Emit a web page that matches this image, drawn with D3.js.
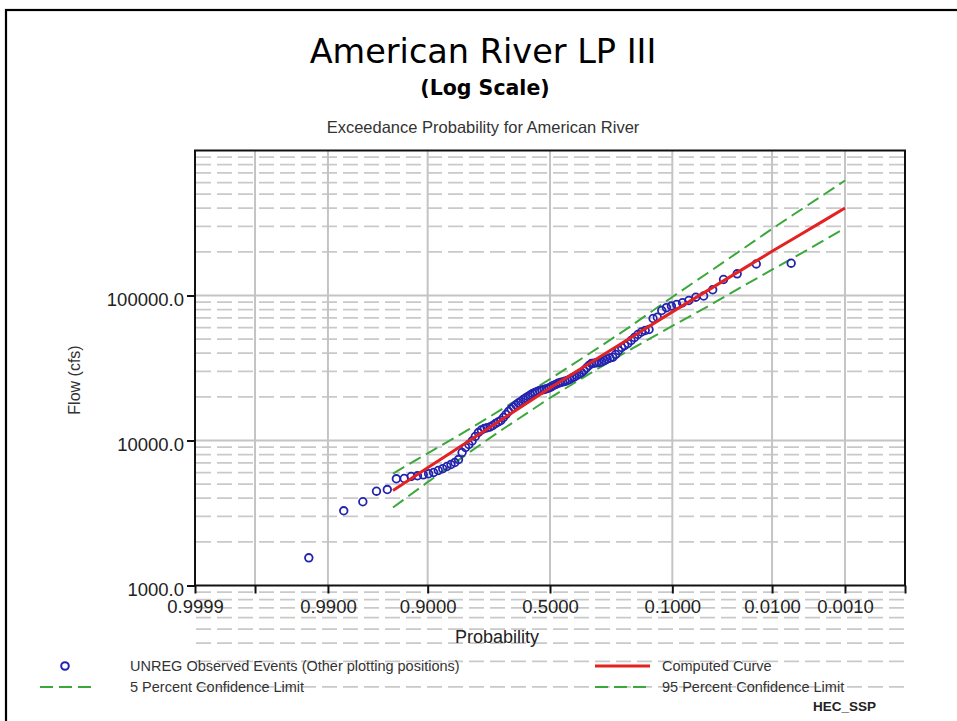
<!DOCTYPE html>
<html>
<head>
<meta charset="utf-8">
<script src="https://cdn.jsdelivr.net/npm/d3@7"></script>
<style>
  body { margin: 0; background: #fff; }
  svg { display: block; }
</style>
</head>
<body>
<svg id="chart" width="957" height="721"></svg>
<script>
// ---- data ----------------------------------------------------------------
// Exceedance-probability axis ticks (normal probability paper)
const probTicks  = [0.9999, 0.999, 0.99, 0.9, 0.5, 0.1, 0.01, 0.001, 0.0001];
const probLabels = ["0.9999", "", "0.9900", "0.9000", "0.5000", "0.1000", "0.0100", "0.0010", ""];
const probGrid   = [0.999, 0.99, 0.9, 0.5, 0.1, 0.01, 0.001];

// Flow axis ticks
const flowTicks      = [1000, 10000, 100000];
const flowTickLabels = ["1000.0", "10000.0", "100000.0"];

// LP III computed frequency curve and confidence limits (cfs)
const curveProb    = [0.95, 0.9, 0.8, 0.7, 0.5, 0.3, 0.2, 0.1, 0.05, 0.02, 0.01, 0.005, 0.002, 0.001];
const computedFlow = [4520, 6480, 10000, 13710, 23010, 37760, 50930, 77090, 107600, 157000, 201800, 252500, 331100, 401000];
const conf05Flow   = [5920, 8150, 12020, 16110, 26550, 44360, 61240, 97720, 141900, 216800, 288400, 370700, 501200, 620900];
const conf95Flow   = [3450, 5160, 8320, 11610, 19680, 31990, 42360, 61660, 83560, 119100, 150700, 186200, 242100, 291700];

// Observed annual peak flows, ranked largest to smallest (cfs)
const observedFlow = [
  167000, 165000, 141100, 128900, 109500, 99200, 97300, 92400, 89100, 86700,
  84600, 82400, 78800, 70850, 69400, 58300, 57350, 56000, 53830, 51330,
  48940, 46670, 45200, 43800, 41760, 39190, 37540, 37070, 36480, 35620,
  34900, 34510, 34350, 34130, 33960, 32900, 31620, 30390, 29440, 28740,
  28070, 27410, 26980, 26340, 25930, 25600, 25310, 25120, 24800, 24330,
  23950, 23460, 23020, 22760, 22470, 22300, 22120, 21770, 21430, 21090,
  20590, 20110, 19640, 19180, 18580, 18140, 17570, 17020, 16490, 15850,
  15110, 14410, 13740, 13420, 13100, 12690, 12390, 12240, 12100, 11810,
  11350, 10660, 9920, 9380, 8950, 8270, 7390, 7050, 6830, 6620,
  6390, 6210, 6020, 5900, 5800, 5710, 5645, 5470, 5445, 4590,
  4470, 3780, 3275, 1552
];

// ---- helpers -------------------------------------------------------------
// Inverse standard normal CDF (Acklam's rational approximation)
function normInv(p) {
  const a = [-3.969683028665376e+01, 2.209460984245205e+02, -2.759285104469687e+02,
             1.383577518672690e+02, -3.066479806614716e+01, 2.506628277459239e+00];
  const b = [-5.447609879822406e+01, 1.615858368580409e+02, -1.556989798598866e+02,
             6.680131188771972e+01, -1.328068155288572e+01];
  const c = [-7.784894002430293e-03, -3.223964580411365e-01, -2.400758277161838e+00,
             -2.549732539343734e+00, 4.374664141464968e+00, 2.938163982698783e+00];
  const d = [7.784695709041462e-03, 3.224671290700398e-01, 2.445134137142996e+00,
             3.754408661907416e+00];
  const pl = 0.02425, ph = 1 - pl;
  let q, r;
  if (p < pl) {
    q = Math.sqrt(-2 * Math.log(p));
    return (((((c[0]*q+c[1])*q+c[2])*q+c[3])*q+c[4])*q+c[5]) / ((((d[0]*q+d[1])*q+d[2])*q+d[3])*q+1);
  }
  if (p <= ph) {
    q = p - 0.5; r = q * q;
    return (((((a[0]*r+a[1])*r+a[2])*r+a[3])*r+a[4])*r+a[5])*q / (((((b[0]*r+b[1])*r+b[2])*r+b[3])*r+b[4])*r+1);
  }
  q = Math.sqrt(-2 * Math.log(1 - p));
  return -(((((c[0]*q+c[1])*q+c[2])*q+c[3])*q+c[4])*q+c[5]) / ((((d[0]*q+d[1])*q+d[2])*q+d[3])*q+1);
}
// exceedance probability -> standard normal variate
const zOf = p => normInv(1 - p);

// Cunnane plotting position for rank i of n
const plotPos = (i, n) => (i - 0.4) / (n + 0.2);

// ---- layout --------------------------------------------------------------
const svg = d3.select("#chart");
const L = 195, R = 905, T = 150.5, B = 585.5;
const sansFont = "'Liberation Sans', Arial, Helvetica, sans-serif";

const x = d3.scaleLinear().domain([zOf(0.9999), zOf(0.0001)]).range([L, R]);
const y = d3.scaleLog().domain([1000, 1e6]).range([B, T]);
const px = p => x(zOf(p));

svg.append("rect").attr("width", 957).attr("height", 721).attr("fill", "#fff");

// slide frame
svg.append("rect")
  .attr("x", 6).attr("y", 10).attr("width", 1200).attr("height", 1200)
  .attr("fill", "none").attr("stroke", "#000").attr("stroke-width", 2.2);

// ---- titles --------------------------------------------------------------
svg.append("text")
  .attr("x", 483).attr("y", 63).attr("text-anchor", "middle")
  .attr("font-family", "'DejaVu Sans', Verdana, sans-serif").attr("font-size", 33.5)
  .attr("fill", "#000").text("American River LP III");
svg.append("text")
  .attr("x", 485).attr("y", 95).attr("text-anchor", "middle")
  .attr("font-family", "'DejaVu Sans', Verdana, sans-serif").attr("font-weight", "bold")
  .attr("font-size", 20.5).attr("fill", "#000").text("(Log Scale)");
svg.append("text")
  .attr("x", 483).attr("y", 133).attr("text-anchor", "middle")
  .attr("font-family", sansFont).attr("font-size", 16.5)
  .attr("fill", "#333").text("Exceedance Probability for American River");

// ---- grid ----------------------------------------------------------------
// minor flow lines (2..9 x each decade), dashed
const minorFlows = [];
for (let e = 2; e <= 5; e++) for (let k = 2; k <= 9; k++) minorFlows.push(k * Math.pow(10, e));
svg.append("g").selectAll("line").data(minorFlows.filter(v => y(v) < 700)).join("line")
  .attr("x1", L + 1).attr("x2", R + 2)
  .attr("y1", d => y(d)).attr("y2", d => y(d))
  .attr("stroke", "#c9c9c9").attr("stroke-width", 1.8)
  .attr("stroke-dasharray", "15,6");

// major flow lines
svg.append("g").selectAll("line").data([10000, 100000]).join("line")
  .attr("x1", L).attr("x2", R)
  .attr("y1", d => y(d)).attr("y2", d => y(d))
  .attr("stroke", "#c4c4c4").attr("stroke-width", 2);

// probability lines
svg.append("g").selectAll("line").data(probGrid).join("line")
  .attr("x1", d => px(d)).attr("x2", d => px(d))
  .attr("y1", T).attr("y2", B)
  .attr("stroke", "#c4c4c4").attr("stroke-width", 2);

// ---- series --------------------------------------------------------------
const line = d3.line().x(d => px(d[0])).y(d => y(d[1]));

svg.append("path")
  .datum(curveProb.map((p, i) => [p, conf05Flow[i]]))
  .attr("d", line).attr("fill", "none")
  .attr("stroke", "#3aa83a").attr("stroke-width", 2).attr("stroke-dasharray", "13,6");
svg.append("path")
  .datum(curveProb.map((p, i) => [p, conf95Flow[i]]))
  .attr("d", line).attr("fill", "none")
  .attr("stroke", "#3aa83a").attr("stroke-width", 2).attr("stroke-dasharray", "13,6");

const n = observedFlow.length;
svg.append("g").selectAll("circle").data(observedFlow).join("circle")
  .attr("cx", (d, i) => px(plotPos(i + 1, n)))
  .attr("cy", d => y(d))
  .attr("r", 3.8)
  .attr("fill", "none").attr("stroke", "#2323b0").attr("stroke-width", 1.8);

svg.append("path")
  .datum(curveProb.map((p, i) => [p, computedFlow[i]]))
  .attr("d", line).attr("fill", "none")
  .attr("stroke", "#e32222").attr("stroke-width", 3);

// ---- axes ----------------------------------------------------------------
svg.append("rect")
  .attr("x", L).attr("y", T).attr("width", R - L).attr("height", B - T)
  .attr("fill", "none").attr("stroke", "#111").attr("stroke-width", 2);

const xAxis = d3.axisBottom(x)
  .tickValues(probTicks.map(zOf))
  .tickFormat((d, i) => probLabels[i])
  .tickSize(8).tickPadding(6);
const gx = svg.append("g").attr("transform", `translate(0,${B})`).call(xAxis);
gx.select(".domain").remove();
gx.selectAll(".tick line").attr("stroke", "#111").attr("stroke-width", 2);
gx.selectAll(".tick text")
  .attr("font-family", sansFont).attr("font-size", 18.5).attr("fill", "#222");

const yAxis = d3.axisLeft(y)
  .tickValues(flowTicks)
  .tickFormat((d, i) => flowTickLabels[i])
  .tickSize(8).tickPadding(3);
const gy = svg.append("g").attr("transform", `translate(${L},0)`).call(yAxis);
gy.select(".domain").remove();
gy.selectAll(".tick line").attr("stroke", "#111").attr("stroke-width", 2);
gy.selectAll(".tick text")
  .attr("font-family", sansFont).attr("font-size", 18.5).attr("fill", "#222")
  .attr("dy", "0.55em");

svg.append("text")
  .attr("transform", "translate(80,380) rotate(-90)")
  .attr("text-anchor", "middle")
  .attr("font-family", sansFont).attr("font-size", 16).attr("fill", "#333")
  .text("Flow (cfs)");

svg.append("text")
  .attr("x", 497).attr("y", 643).attr("text-anchor", "middle")
  .attr("font-family", sansFont).attr("font-size", 18).attr("fill", "#222")
  .text("Probability");

// ---- legend --------------------------------------------------------------
const lg = svg.append("g").attr("font-family", sansFont).attr("font-size", 14.5).attr("fill", "#333");
lg.append("circle").attr("cx", 65).attr("cy", 666).attr("r", 3.8)
  .attr("fill", "none").attr("stroke", "#2323b0").attr("stroke-width", 2);
lg.append("text").attr("x", 130).attr("y", 671).text("UNREG Observed Events (Other plotting positions)");

lg.append("line").attr("x1", 595).attr("x2", 650).attr("y1", 666).attr("y2", 666)
  .attr("stroke", "#e32222").attr("stroke-width", 3);
lg.append("text").attr("x", 662).attr("y", 671).text("Computed Curve");

lg.append("line").attr("x1", 40).attr("x2", 94).attr("y1", 687).attr("y2", 687)
  .attr("stroke", "#3aa83a").attr("stroke-width", 2).attr("stroke-dasharray", "13,6");
lg.append("text").attr("x", 130).attr("y", 692).text("5 Percent Confidence Limit");

lg.append("line").attr("x1", 595).attr("x2", 650).attr("y1", 687).attr("y2", 687)
  .attr("stroke", "#3aa83a").attr("stroke-width", 2).attr("stroke-dasharray", "13,6");
lg.append("text").attr("x", 662).attr("y", 692).text("95 Percent Confidence Limit");

svg.append("text")
  .attr("x", 876).attr("y", 711).attr("text-anchor", "end")
  .attr("font-family", sansFont).attr("font-weight", "bold").attr("font-size", 13.5)
  .attr("fill", "#222").text("HEC_SSP");
</script>
</body>
</html>
